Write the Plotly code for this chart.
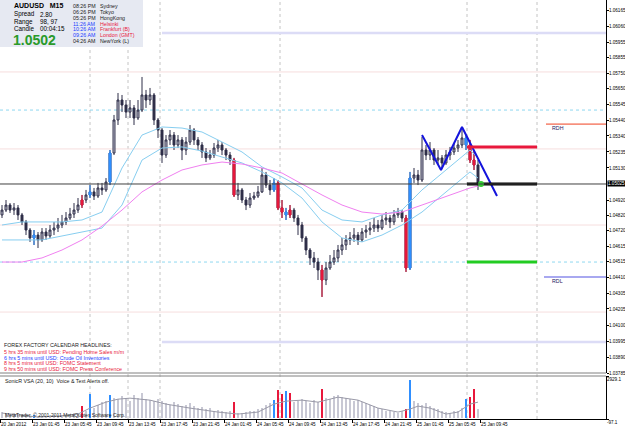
import plotly.graph_objects as go

# ---------------- data ----------------
first_open = 1.04822
closes = [1.04854,1.04887,1.04854,1.04868,1.04822,1.04776,1.04723,1.04671,1.04690,1.04658,
          1.04710,1.04684,1.04723,1.04736,1.04756,1.04776,1.04802,1.04828,1.04854,1.04887,
          1.04920,1.04953,1.04973,1.04946,1.04999,1.04986,1.05038,1.05228,1.05445,1.05576,
          1.05543,1.05497,1.05524,1.05458,1.05510,1.05609,1.05576,1.05609,1.05445,1.05379,
          1.05215,1.05314,1.05346,1.05281,1.05314,1.05248,1.05300,1.05379,1.05314,1.05281,
          1.05235,1.05196,1.05215,1.05261,1.05281,1.05248,1.05215,1.05182,1.04953,1.04986,
          1.04920,1.04887,1.04933,1.04946,1.04973,1.05084,1.05018,1.04986,1.05032,1.04868,
          1.04841,1.04822,1.04854,1.04802,1.04756,1.04671,1.04592,1.04540,1.04513,1.04461,
          1.04395,1.04474,1.04513,1.04540,1.04592,1.04625,1.04658,1.04671,1.04690,1.04658,
          1.04710,1.04723,1.04736,1.04756,1.04736,1.04789,1.04802,1.04776,1.04822,1.04841,
          1.04802,1.04474,1.05064,1.05084,1.05051,1.05248,1.05215,1.05248,1.05182,1.05196,
          1.05163,1.05215,1.05235,1.05261,1.05281,1.05327,1.05281,1.05182,1.05150,1.05025]
highs = [1.04887,1.04920,1.04900,1.04900,1.04887,1.04835,1.04789,1.04736,1.04723,1.04710,
         1.04736,1.04736,1.04756,1.04776,1.04802,1.04822,1.04841,1.04868,1.04900,1.04933,
         1.04953,1.04986,1.05018,1.04999,1.05032,1.05032,1.05064,1.05248,1.05478,1.05622,
         1.05609,1.05576,1.05576,1.05543,1.05576,1.05727,1.05642,1.05655,1.05622,1.05458,
         1.05392,1.05346,1.05379,1.05366,1.05346,1.05333,1.05333,1.05412,1.05392,1.05333,
         1.05300,1.05261,1.05248,1.05294,1.05314,1.05300,1.05261,1.05235,1.05196,1.05032,
         1.04999,1.04940,1.04966,1.04973,1.05012,1.05130,1.05104,1.05051,1.05064,1.05051,
         1.04920,1.04868,1.04887,1.04868,1.04822,1.04776,1.04684,1.04605,1.04579,1.04540,
         1.04494,1.04513,1.04559,1.04592,1.04625,1.04671,1.04690,1.04710,1.04736,1.04710,
         1.04736,1.04756,1.04776,1.04802,1.04789,1.04822,1.04841,1.04822,1.04854,1.04868,
         1.04854,1.04822,1.05104,1.05130,1.05117,1.05333,1.05281,1.05300,1.05261,1.05248,
         1.05215,1.05248,1.05268,1.05294,1.05314,1.05392,1.05346,1.05314,1.05248,1.05182]
lows = [1.04802,1.04841,1.04835,1.04822,1.04789,1.04756,1.04690,1.04645,1.04625,1.04605,
        1.04645,1.04658,1.04671,1.04690,1.04710,1.04736,1.04756,1.04789,1.04802,1.04835,
        1.04868,1.04900,1.04933,1.04920,1.04933,1.04953,1.04973,1.05018,1.05215,1.05412,
        1.05497,1.05458,1.05458,1.05412,1.05445,1.05497,1.05524,1.05543,1.05412,1.05327,
        1.05163,1.05196,1.05281,1.05248,1.05261,1.05182,1.05215,1.05281,1.05281,1.05248,
        1.05196,1.05169,1.05182,1.05196,1.05235,1.05215,1.05182,1.05150,1.04940,1.04920,
        1.04900,1.04854,1.04868,1.04920,1.04933,1.04966,1.04999,1.04953,1.04973,1.04854,
        1.04802,1.04789,1.04802,1.04776,1.04690,1.04645,1.04559,1.04494,1.04474,1.04395,
        1.04284,1.04362,1.04461,1.04494,1.04513,1.04559,1.04592,1.04625,1.04645,1.04625,
        1.04645,1.04671,1.04690,1.04710,1.04710,1.04723,1.04756,1.04736,1.04756,1.04802,
        1.04776,1.04448,1.04461,1.05032,1.05018,1.05038,1.05182,1.05182,1.05150,1.05150,
        1.05130,1.05150,1.05182,1.05215,1.05235,1.05261,1.05248,1.05163,1.05117,1.04986]

vsa_blue = [8, 22, 27, 68, 71, 102, 116]
vsa_red = [20, 58, 69, 70, 72, 80, 101, 117, 118]

volumes = [400,300,250,350,200,150,250,100,150,120,
           80,60,100,150,120,200,180,250,300,350,
           810,500,1650,700,900,1100,1200,1580,1400,1300,
           1500,1350,1200,1600,1400,1700,1300,1250,1150,1300,
           1200,1000,900,1100,950,800,900,1000,850,700,
           750,600,650,500,550,450,400,500,1090,300,
           350,400,500,450,600,700,900,1000,1230,1930,
           1650,1860,1720,1100,1200,1300,1150,1000,1250,1100,
           2000,1400,1300,1500,1600,1450,1350,1300,1200,1250,
           1100,1000,900,800,700,600,500,450,400,350,
           500,600,2630,1200,1000,900,1000,800,700,600,
           500,400,350,450,500,700,1300,1440,2000,600]
vol_ma_x = [0,4,9,14,19,22,26,29,32,37,41,47,54,59,64,68,71,75,79,84,89,94,99,102,104,107,111,114,117,119]
vol_ma = [320,180,40,110,250,670,1090,1300,1370,1230,950,670,390,250,390,950,1160,1230,1090,1440,
          1230,670,390,600,810,670,250,390,950,1090]

ma_x = [0,5,10,15,20,25,30,35,40,45,50,55,60,65,70,75,80,85,90,95,100,105,110,115,117,119]
ma_upper = [1.04756,1.04776,1.04776,1.04776,1.04789,1.04841,1.05130,1.05346,1.05399,1.05392,
            1.05366,1.05300,1.05235,1.05137,1.05071,1.04999,1.04854,1.04789,1.04776,1.04822,
            1.04854,1.04986,1.05097,1.05202,1.05248,1.05196]
ma_lower = [1.04658,1.04658,1.04658,1.04684,1.04710,1.04736,1.04887,1.05182,1.05261,1.05268,
            1.05241,1.05202,1.05163,1.05104,1.05032,1.04933,1.04776,1.04671,1.04645,1.04690,
            1.04756,1.04841,1.04953,1.05064,1.05104,1.05064]
ma_slow = [1.04513,1.04513,1.04540,1.04592,1.04658,1.04749,1.04854,1.04973,1.05051,1.05117,
           1.05150,1.05169,1.05156,1.05130,1.05097,1.05025,1.04953,1.04887,1.04841,1.04828,
           1.04841,1.04887,1.04933,1.04979,1.04999,1.05012]

zigzag_x = [105, 109.75, 115, 123.75]
zigzag_y = [1.05346, 1.05117, 1.05399, 1.04946]
target_x = [116.25, 133.75]
target_red = 1.05268
target_black = 1.05025
target_green = 1.04513
dot_x, dot_y = 119.75, 1.05025
bid = 1.05025
rdh, rdl = 1.05418, 1.04415
rd_start = 136.0

pivot_levels = [1.06016, 1.05760, 1.05510, 1.05255, 1.04756, 1.04513, 1.04185, 1.03988]
pivot_kind = ['s3', 's2', 's1', 's2', 's2', 's1', 's2', 's3']
session_lines = [22, 31.5, 39.5, 69.5, 116.25, 133.75]

price_ticks = ["1.06165","1.06060","1.05955","1.05855","1.05750","1.05650","1.05545","1.05440",
               "1.05340","1.05235","1.05130","1.05025","1.04920","1.04820","1.04720","1.04615",
               "1.04515","1.04410","1.04305","1.04205","1.04100","1.03995","1.03890","1.03785"]
bid_label = "1.05025"
time_ticks = ["20 Jan 2012","23 Jan 01:45","23 Jan 05:45","23 Jan 09:45","23 Jan 13:45",
              "23 Jan 17:45","23 Jan 21:45","24 Jan 01:45","24 Jan 05:45","24 Jan 09:45",
              "24 Jan 13:45","24 Jan 17:45","24 Jan 21:45","25 Jan 01:45","25 Jan 05:45",
              "25 Jan 09:45"]
bars_per_label = 8

# ---------------- figure ----------------
FONT = "Liberation Sans"
n = len(closes)
xs = list(range(n))
opens = [first_open] + closes[:-1]
X_MAX = 151.0

def fx(p):  # pixel -> paper x
    return p / 606.0

def fy(p):  # pixel -> paper y
    return 1 - p / 419.0

fig = go.Figure()

INK = '#2e2e48'
fig.add_trace(go.Candlestick(
    x=xs, open=opens, high=highs, low=lows, close=closes,
    increasing=dict(line=dict(color=INK, width=1), fillcolor='#c9cad8'),
    decreasing=dict(line=dict(color=INK, width=1), fillcolor=INK),
    whiskerwidth=0, xaxis='x', yaxis='y'))

for idxs, col in ((vsa_blue, '#2f8fff'), (vsa_red, '#e8183c')):
    fig.add_trace(go.Candlestick(
        x=idxs, open=[opens[i] for i in idxs], high=[highs[i] for i in idxs],
        low=[lows[i] for i in idxs], close=[closes[i] for i in idxs],
        increasing=dict(line=dict(color=col, width=1), fillcolor=col),
        decreasing=dict(line=dict(color=col, width=1), fillcolor=col),
        whiskerwidth=0, xaxis='x', yaxis='y'))

for ys, col in ((ma_upper, '#87cef0'), (ma_lower, '#87cef0'), (ma_slow, '#f080f0')):
    fig.add_trace(go.Scatter(x=ma_x, y=ys, mode='lines', line=dict(color=col, width=1),
                             xaxis='x', yaxis='y'))

fig.add_trace(go.Scatter(x=zigzag_x, y=zigzag_y, mode='lines',
                         line=dict(color='#1414dc', width=2), xaxis='x', yaxis='y'))
for lvl, col in ((target_red, '#e8183c'), (target_black, '#000000'), (target_green, '#22cc22')):
    fig.add_trace(go.Scatter(x=target_x, y=[lvl, lvl], mode='lines',
                             line=dict(color=col, width=3), xaxis='x', yaxis='y'))
fig.add_trace(go.Scatter(x=[dot_x], y=[dot_y], mode='markers',
                         marker=dict(color='#33cc33', size=6), xaxis='x', yaxis='y'))

# volume pane
vcol = ['#c8c8d4'] * n
for i in vsa_blue:
    vcol[i] = '#2f8fff'
for i in vsa_red:
    vcol[i] = '#e8183c'
fig.add_trace(go.Bar(x=xs, y=volumes, marker=dict(color=vcol, line=dict(width=0)),
                     width=0.45, xaxis='x', yaxis='y2'))
fig.add_trace(go.Scatter(x=vol_ma_x, y=vol_ma, mode='lines',
                         line=dict(color='#9a9aa8', width=1), xaxis='x', yaxis='y2'))

shapes = []
for sx in session_lines:
    shapes.append(dict(type='line', xref='x', yref='paper', x0=sx, x1=sx, y0=0, y1=1,
                       line=dict(color='#c4c4c4', width=1, dash='dot'), layer='below'))
pstyle = {'s3': ('#dcdcf6', 2.5, 'solid', 40), 's2': ('#f6dede', 1, 'solid', -0.5),
          's1': ('#8fd8f0', 1, 'dot', -0.5)}
for lvl, k in zip(pivot_levels, pivot_kind):
    c, w, d, x0 = pstyle[k]
    shapes.append(dict(type='line', xref='x', yref='y', x0=x0, x1=X_MAX, y0=lvl, y1=lvl,
                       line=dict(color=c, width=w, dash=d), layer='below'))
shapes.append(dict(type='line', xref='x', yref='y', x0=-0.5, x1=X_MAX, y0=bid, y1=bid,
                   line=dict(color='#404040', width=1)))
shapes.append(dict(type='line', xref='x', yref='y', x0=rd_start, x1=X_MAX, y0=rdh, y1=rdh,
                   line=dict(color='#f04020', width=1)))
shapes.append(dict(type='line', xref='x', yref='y', x0=rd_start - 0.5, x1=X_MAX, y0=rdl, y1=rdl,
                   line=dict(color='#a8a8f0', width=2)))
for p in (373, 376):
    shapes.append(dict(type='line', xref='paper', yref='paper', x0=0, x1=1, y0=fy(p), y1=fy(p),
                       line=dict(color='#808080', width=1)))
shapes.append(dict(type='rect', xref='paper', yref='paper', x0=0, x1=fx(143), y0=fy(47), y1=1,
                   fillcolor='#e6e9f2', line=dict(width=0)))

ann = []
def text(x, y, s, size=5.5, color='#000000', bold=False, anchor='left'):
    ann.append(dict(xref='paper', yref='paper', x=fx(x), y=fy(y), text=('<b>%s</b>' % s) if bold else s,
                    showarrow=False, xanchor=anchor, yanchor='middle',
                    font=dict(family=FONT, size=size, color=color)))

text(12, 6, 'AUDUSD&nbsp;&nbsp;&nbsp;M15', 7, bold=True)
for y, a, b in ((14.5, 'Spread', '2.80'), (21.5, 'Range', '98, 97'), (28, 'Candle', '00:04:15')):
    text(12, y, a, 6.3)
    text(38, y, b, 6.3)
text(11, 40, '1.0502', 14, '#2a9a2a', bold=True)
clock = [('08:26 PM', 'Sydney', '#202020', '#202020'), ('06:26 PM', 'Tokyo', '#202020', '#202020'),
         ('05:26 PM', 'HongKong', '#202020', '#202020'), ('11:26 AM', 'Helsinki', '#1a3cff', '#e8183c'),
         ('10:26 AM', 'Frankfurt (B)', '#1a3cff', '#e8183c'), ('09:26 AM', 'London (GMT)', '#1a3cff', '#e8183c'),
         ('04:26 AM', 'NewYork (L)', '#202020', '#202020')]
for k, (t, c, tc, cc) in enumerate(clock):
    y = 6 + k * 5.85
    text(71, y, t, 5.3, tc)
    text(98, y, c, 5.3, cc)

text(2, 345, 'FOREX FACTORY CALENDAR HEADLINES:', 5.3, '#202020')
news = [('5 hrs 35 mins until USD: Pending Home Sales m/m', '#e8183c'),
        ('6 hrs 5 mins until USD: Crude Oil Inventories', '#1a3cff'),
        ('8 hrs 5 mins until USD: FOMC Statement', '#e8183c'),
        ('9 hrs 50 mins until USD: FOMC Press Conference', '#e8183c')]
for k, (s, c) in enumerate(news):
    text(2, 352 + k * 5.7, s, 5.3, c)
text(3, 381, 'SonicR VSA (20, 10)&nbsp;&nbsp;Voice &amp; Text Alerts off.', 5.3, '#202020')
text(3, 415, 'MetaTrader, © 2001-2011 MetaQuotes Software Corp.', 5, '#202020')
text(550, 128, 'RDH', 5.3, '#202060')
text(550, 281, 'RDL', 5.3, '#202060')

AXS = 4.6
ann.append(dict(xref='paper', yref='y', x=1.0, y=bid, text=bid_label, showarrow=False,
                xanchor='left', yanchor='middle', xshift=1, bgcolor='#000000', borderpad=0,
                font=dict(family=FONT, size=AXS, color='#ffffff')))

tick_vals = [float(t) for t in price_ticks if t != bid_label]
tick_txt = [t for t in price_ticks if t != bid_label]

axfont = dict(family=FONT, size=AXS, color='#000000')
fig.update_layout(
    width=625, height=429, margin=dict(l=0, r=19, t=0, b=10, autoexpand=False),
    paper_bgcolor='#ffffff', plot_bgcolor='#ffffff', showlegend=False,
    shapes=shapes, annotations=ann, bargap=0,
    xaxis=dict(domain=[0, 1], range=[-0.5, X_MAX], anchor='y2',
               tickvals=[bars_per_label * k - 0.5 for k in range(len(time_ticks))],
               ticktext=time_ticks, ticklabelposition='outside right', tickangle=0,
               ticks='outside', ticklen=3, tickcolor='#000000', tickfont=axfont, automargin=False,
               showgrid=False,
               showline=True, linecolor='#000000', linewidth=1, zeroline=False,
               rangeslider=dict(visible=False), fixedrange=True),
    yaxis=dict(domain=[fy(373), 1], range=[1.06232 - 373 * 0.0000656, 1.06232], anchor='x',
               side='right', tickvals=tick_vals, ticktext=tick_txt, automargin=False,
               ticks='outside', ticklen=2, tickcolor='#000000', tickfont=axfont,
               ticklabelstandoff=-1,
               showgrid=False, showline=True, linecolor='#000000', linewidth=1, zeroline=False),
    yaxis2=dict(domain=[0, fy(376)], range=[-97.1, 2929.1], anchor='x', side='right',
                tickvals=[2929.1, -97.1], ticktext=['2929.1', '-97.1'], automargin=False,
                ticks='outside', ticklen=2, tickcolor='#000000', tickfont=axfont,
                ticklabelposition='outside bottom', ticklabelstandoff=-1,
                showgrid=False, showline=True, linecolor='#000000', linewidth=1, zeroline=False),
)

fig.write_html("out.html")
